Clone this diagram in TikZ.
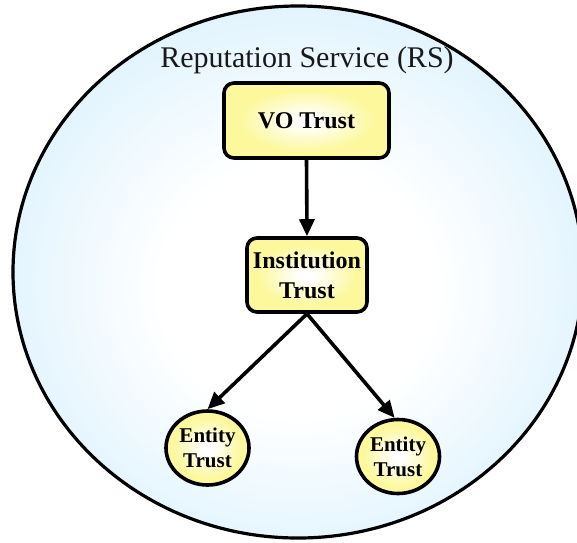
\documentclass[tikz,border=0pt]{standalone}
\usepackage{fontspec}
\setmainfont{Liberation Serif}
\usetikzlibrary{arrows.meta,shapes.geometric}

\definecolor{rsblue}{RGB}{226,244,254}
\definecolor{trustyellow}{RGB}{252,248,155}

% soft white centre fading into the pale blue of the service area
\pgfdeclareradialshading{servicehalo}{\pgfpoint{0bp}{-2bp}}{%
  color(0bp)=(white);color(12bp)=(white);color(26bp)=(rsblue);color(50bp)=(rsblue)}
% glowing yellow fill of the trust nodes
\pgfdeclareradialshading{trustglow}{\pgfpoint{0bp}{0bp}}{%
  color(0bp)=(white);color(3bp)=(white);color(21bp)=(trustyellow);color(50bp)=(trustyellow)}

\begin{document}
\begin{tikzpicture}[x=1pt,y=-1pt,
  trustbox/.style={draw=black, line width=3.6pt, rounded corners=10pt,
    shade, shading=trustglow, font=\bfseries\fontsize{24}{30}\selectfont,
    align=center, inner sep=0pt},
  trustdisc/.style={ellipse, draw=black, line width=3.6pt,
    shade, shading=trustglow, font=\bfseries\fontsize{21}{25}\selectfont,
    align=center, inner sep=0pt, minimum width=83pt, minimum height=74pt},
  link/.style={line width=3.6pt, -{Triangle[length=17pt,width=15pt]}}]
\useasboundingbox (0,0) rectangle (577,542);

% the reputation service area
\shadedraw[shading=servicehalo, line width=3.2pt]
  (298,272) ellipse [x radius=285pt, y radius=266pt];
\node[anchor=base, font=\fontsize{30}{36}\selectfont, text=black!90] (rs)
  at (307,67) {Reputation Service (RS)};

% trust levels
\node[trustbox, minimum width=165pt, minimum height=75pt] (vo)
  at (306.5,120.5) {VO Trust};
\node[trustbox, minimum width=120pt, minimum height=74pt] (inst)
  at (307,275) {Institution\\Trust};
\node[trustdisc] (e1) at (207.5,448) {Entity\\Trust};
\node[trustdisc] (e2) at (398,456.5) {Entity\\Trust};

% trust propagation
\draw[link] (vo.south) -- (inst.north);
\draw[link] (inst.south) -- (e1.north);
\draw[link] (inst.south) -- (e2.95);
\end{tikzpicture}
\end{document}
